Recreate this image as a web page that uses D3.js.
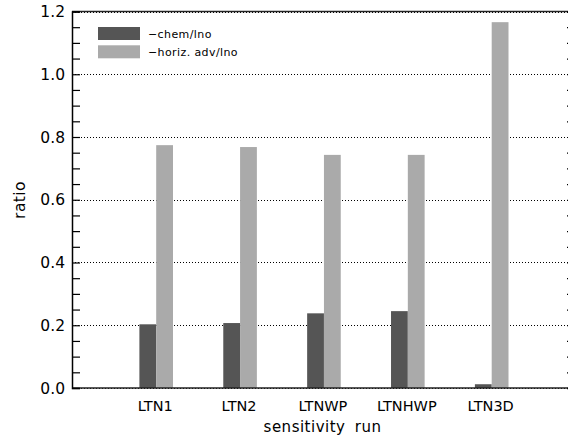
<!DOCTYPE html>
<html>
<head>
<meta charset="utf-8">
<script src="https://cdn.jsdelivr.net/npm/d3@7"></script>
<style>
  html, body { margin: 0; padding: 0; background: #fff; }
  svg { display: block; font-family: "DejaVu Sans", sans-serif; }
</style>
</head>
<body>
<svg id="chart" width="568" height="439"></svg>
<script>
// ---- data ----
const categories = ["LTN1", "LTN2", "LTNWP", "LTNHWP", "LTN3D"];
const chemValues = [0.203, 0.207, 0.238, 0.245, 0.012];
const advValues  = [0.774, 0.768, 0.743, 0.743, 1.166];
const seriesNames = ["\u2212chem/lno", "\u2212horiz. adv/lno"];
const seriesColors = ["#555555", "#aaaaaa"];
const yMajorTicks = [0.0, 0.2, 0.4, 0.6, 0.8, 1.0, 1.2];

// ---- layout ----
const svg = d3.select("#chart");
const mLeft = 72, mRight = 575, mTop = 11.5, mBottom = 388;

const y = d3.scaleLinear().domain([0, 1.2]).range([mBottom, mTop]);
const x = d3.scaleLinear().domain([0, categories.length - 1]).range([156.2, 491.7]);
const barW = 16.8;

// gridlines (dotted)
svg.append("g").selectAll("line").data(yMajorTicks).join("line")
  .attr("x1", mLeft).attr("x2", 568)
  .attr("y1", d => Math.round(y(d)) + 0.5).attr("y2", d => Math.round(y(d)) + 0.5)
  .attr("stroke", "#000").attr("stroke-width", 1)
  .attr("shape-rendering", "crispEdges")
  .attr("stroke-dasharray", "1,2");

// bars
const g = svg.append("g");
g.selectAll("rect.chem").data(chemValues).join("rect")
  .attr("class", "chem")
  .attr("x", (d, i) => x(i) - barW).attr("width", barW)
  .attr("y", d => y(d)).attr("height", d => y(0) - y(d))
  .attr("fill", seriesColors[0]);
g.selectAll("rect.adv").data(advValues).join("rect")
  .attr("class", "adv")
  .attr("x", (d, i) => x(i)).attr("width", barW)
  .attr("y", d => y(d)).attr("height", d => y(0) - y(d))
  .attr("fill", seriesColors[1]);

// frame
svg.append("line").attr("x1", mLeft).attr("x2", 568).attr("y1", mBottom).attr("y2", mBottom)
  .attr("stroke", "#222").attr("stroke-width", 1.5);
svg.append("line").attr("x1", mLeft).attr("x2", 568).attr("y1", mTop).attr("y2", mTop)
  .attr("stroke", "#222").attr("stroke-width", 1.5);

// left axis
const yAxisL = d3.axisRight(y).tickValues(d3.range(0, 1.2001, 0.05)).tickSize(8).tickFormat("");
svg.append("g").attr("transform", `translate(${mLeft},0)`).call(yAxisL)
  .call(s => s.select(".domain").attr("stroke", "#000").attr("stroke-width", 1.5))
  .call(s => s.selectAll(".tick line").attr("stroke", "#000").attr("stroke-width", 1.2));
// right axis
const yAxisR = d3.axisLeft(y).tickValues(d3.range(0, 1.2001, 0.05)).tickSize(8).tickFormat("");
svg.append("g").attr("transform", `translate(${mRight},0)`).call(yAxisR)
  .call(s => s.select(".domain").attr("stroke", "#000").attr("stroke-width", 1.5))
  .call(s => s.selectAll(".tick line").attr("stroke", "#000").attr("stroke-width", 1.2));

// y tick labels
svg.append("g").selectAll("text").data(yMajorTicks).join("text")
  .attr("x", 65).attr("y", d => y(d)).attr("dy", "0.36em")
  .attr("text-anchor", "end").attr("font-size", 15.5).attr("fill", "#000")
  .text(d => d3.format(".1f")(d));

// x tick labels
svg.append("g").selectAll("text").data(categories).join("text")
  .attr("x", (d, i) => x(i) - 1).attr("y", 411)
  .attr("text-anchor", "middle").attr("font-size", 14.5).attr("fill", "#000")
  .text(d => d);

// axis titles
svg.append("text").attr("x", 322.5).attr("y", 432)
  .attr("text-anchor", "middle").attr("font-size", 15).attr("fill", "#000")
  .attr("letter-spacing", "0.5px").attr("word-spacing", "4px")
  .text("sensitivity run");
svg.append("text")
  .attr("transform", "translate(25,200) rotate(-90)")
  .attr("text-anchor", "middle").attr("font-size", 15.5).attr("fill", "#000")
  .attr("letter-spacing", "0.4px")
  .text("ratio");

// legend
const leg = svg.append("g").selectAll("g").data(seriesNames).join("g")
  .attr("transform", (d, i) => `translate(98,${27 + i * 18.3})`);
leg.append("rect").attr("width", 42).attr("height", 13).attr("fill", (d, i) => seriesColors[i]);
leg.append("text").attr("x", 50).attr("y", 7).attr("dy", "0.35em")
  .attr("font-size", 11).attr("fill", "#000").attr("letter-spacing", "0.4px")
  .text(d => d);
</script>
</body>
</html>
